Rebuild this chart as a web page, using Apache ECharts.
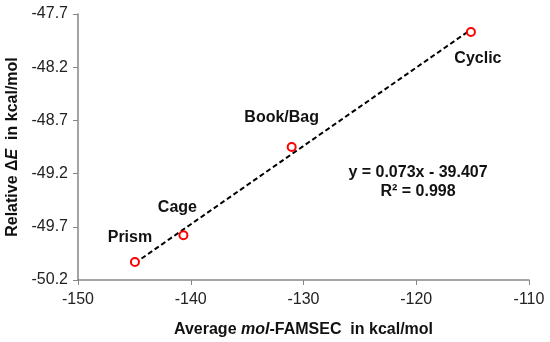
<!DOCTYPE html>
<html><head><meta charset="utf-8">
<script src="https://cdn.jsdelivr.net/npm/echarts@6/dist/echarts.min.js"></script>
<style>html,body{margin:0;padding:0;background:#fff}#c{width:550px;height:342px}</style>
</head><body><div id="c"></div>
<script>
const names = ['Prism', 'Cage', 'Book/Bag', 'Cyclic'];
const xValues = [-144.95, -140.65, -131.05, -115.15];
const yValues = [-50.03, -49.78, -48.95, -47.87];
const yTicks = [-50.2, -49.7, -49.2, -48.7, -48.2, -47.7];
const xTicks = [-150, -140, -130, -120, -110];
const labelOffsets = [[-5, -24], [-6, -28], [-10, -29], [7, 27]];

// least-squares trendline computed from the data
const n = xValues.length;
const mx = xValues.reduce((a, b) => a + b, 0) / n;
const my = yValues.reduce((a, b) => a + b, 0) / n;
let sxy = 0, sxx = 0;
for (let i = 0; i < n; i++) { sxy += (xValues[i] - mx) * (yValues[i] - my); sxx += (xValues[i] - mx) ** 2; }
const slope = sxy / sxx, icpt = my - slope * mx;
const xMin = Math.min(...xValues), xMax = Math.max(...xValues);
const trend = [[xMin, slope * xMin + icpt], [xMax, slope * xMax + icpt]];

const font = '"Liberation Sans", Arial, sans-serif';
const chart = echarts.init(document.getElementById('c'));
chart.setOption({
  animation: false,
  grid: { left: 78, right: 21, top: 14, bottom: 62, containLabel: false, outerBoundsMode: 'none' },
  xAxis: {
    type: 'value', min: -150, max: -110, interval: 10,
    axisLine: { lineStyle: { color: '#868686', width: 1.5 } },
    axisTick: { show: true, length: 5, customValues: xTicks, lineStyle: { color: '#868686' } },
    splitLine: { show: false },
    axisLabel: { customValues: xTicks, color: '#222', fontSize: 16, fontFamily: font, margin: 12 },
    name: '{b|Average }{bi|mol}{b|-FAMSEC  in kcal/mol}',
    nameLocation: 'middle', nameGap: 42,
    nameTextStyle: {
      rich: {
        b: { fontWeight: 'bold', fontSize: 16, fontFamily: font, color: '#111' },
        bi: { fontWeight: 'bold', fontStyle: 'italic', fontSize: 16, fontFamily: font, color: '#111' }
      }
    }
  },
  yAxis: {
    type: 'value', min: -50.2, max: -47.7,
    axisLine: { show: true, lineStyle: { color: '#868686', width: 1.5 } },
    axisTick: { show: true, length: 5, customValues: yTicks, lineStyle: { color: '#868686' } },
    splitLine: { show: false },
    axisLabel: { customValues: yTicks, color: '#222', fontSize: 16, fontFamily: font, margin: 10,
      formatter: v => v.toFixed(1) },
    name: '{b|Relative Δ}{bi|E}{b|  in kcal/mol}',
    nameLocation: 'middle', nameGap: 55, nameRotate: 90,
    nameTextStyle: {
      rich: {
        b: { fontWeight: 'bold', fontSize: 16, fontFamily: font, color: '#111' },
        bi: { fontWeight: 'bold', fontStyle: 'italic', fontSize: 16, fontFamily: font, color: '#111' }
      }
    }
  },
  series: [
    {
      type: 'line', data: trend, symbol: 'none', z: 2, silent: true,
      lineStyle: { color: '#000', width: 2, type: [5, 3] }
    },
    {
      type: 'scatter', z: 3,
      data: xValues.map((x, i) => ({
        value: [x, yValues[i]],
        label: { show: true, formatter: names[i], position: 'inside', offset: labelOffsets[i],
          fontWeight: 'bold', fontSize: 16, fontFamily: font, color: '#111' }
      })),
      symbol: 'circle', symbolSize: 8,
      itemStyle: { color: '#fff', borderColor: '#ff0000', borderWidth: 2, opacity: 1 }
    }
  ],
  graphic: [
    { type: 'text', position: [418, 173], style: { text: 'y = 0.073x - 39.407', x: 0, y: 0, align: 'center', verticalAlign: 'middle',
      font: 'bold 16px ' + font, fill: '#111' } },
    { type: 'text', position: [418, 192], style: { text: 'R² = 0.998', x: 0, y: 0, align: 'center', verticalAlign: 'middle',
      font: 'bold 16px ' + font, fill: '#111' } }
  ]
});
</script></body></html>
